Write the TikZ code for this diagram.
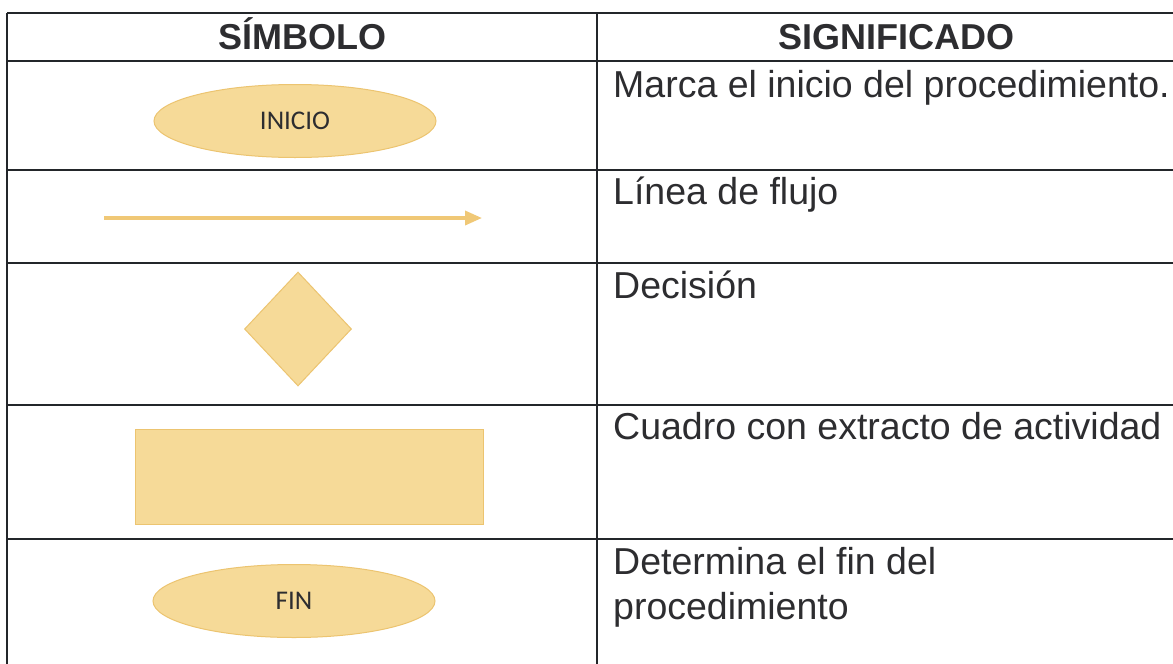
\documentclass[tikz,border=0pt]{standalone}
\usepackage{fontspec}
\setmainfont{Liberation Sans}
\newfontfamily\calib{Carlito}
\usetikzlibrary{shapes.geometric,arrows.meta}
\definecolor{gold}{RGB}{246,218,152}
\definecolor{goldedge}{RGB}{236,196,112}
\definecolor{goldline}{RGB}{240,200,118}
\definecolor{ink}{RGB}{45,45,48}
\definecolor{rule}{RGB}{35,38,42}
\tikzset{
  tabline/.style={draw=rule, line width=2pt},
  hdr/.style={font=\fontsize{36}{42}\selectfont\bfseries, text=ink, anchor=base, inner sep=0},
  desc/.style={font=\fontsize{37.5}{45}\selectfont, text=ink, anchor=base west, inner sep=0},
  term/.style={ellipse, fill=gold, draw=goldedge, line width=1pt, minimum width=282pt, minimum height=73pt, inner sep=0,
    font=\calib\fontsize{27}{30}\selectfont, text=ink},
  decis/.style={diamond, fill=gold, draw=goldedge, line width=1pt, minimum width=107pt, minimum height=114pt, inner sep=0},
  actbox/.style={rectangle, fill=gold, draw=goldedge, line width=1pt, minimum width=348pt, minimum height=95pt, inner sep=0},
  flow/.style={draw=goldline, line width=3.5pt, -{Triangle[length=17pt,width=14pt]}}
}
\begin{document}
\begin{tikzpicture}[x=1pt,y=-1pt]
\useasboundingbox (0,0) rectangle (1173,664);
\clip (0,0) rectangle (1173,664);
\fill[white] (0,0) rectangle (1173,664);
% table lines
\draw[tabline] (7,13) -- (1200,13);
\draw[tabline] (7,61) -- (1200,61);
\draw[tabline] (7,170) -- (1200,170);
\draw[tabline] (7,263) -- (1200,263);
\draw[tabline] (7,405) -- (1200,405);
\draw[tabline] (7,539) -- (1200,539);
\draw[tabline] (7,13) -- (7,670);
\draw[tabline] (597,13) -- (597,670);
% headers
\node[hdr] (h1) at (302,49) {SÍMBOLO};
\node[hdr] (h2) at (896,49) {SIGNIFICADO};
% symbols
\node[term] (inicio) at (295,121) {INICIO};
\coordinate (fa) at (104,218);
\coordinate (fb) at (482,218);
\draw[flow] (fa) -- (fb);
\node[decis] (dec) at (298,329) {};
\node[actbox] (act) at (309,476.5) {};
\node[term] (fin) at (294,601) {FIN};
% descriptions
\node[desc] (d1) at (613,97) {Marca el inicio del procedimiento.};
\node[desc] (d2) at (613,204) {Línea de flujo};
\node[desc] (d3) at (613,298) {Decisión};
\node[desc] (d4) at (613,439) {Cuadro con extracto de actividad};
\node[desc] (d5) at (613,574) {Determina el fin del};
\node[desc] (d6) at (613,619) {procedimiento};
\end{tikzpicture}
\end{document}
